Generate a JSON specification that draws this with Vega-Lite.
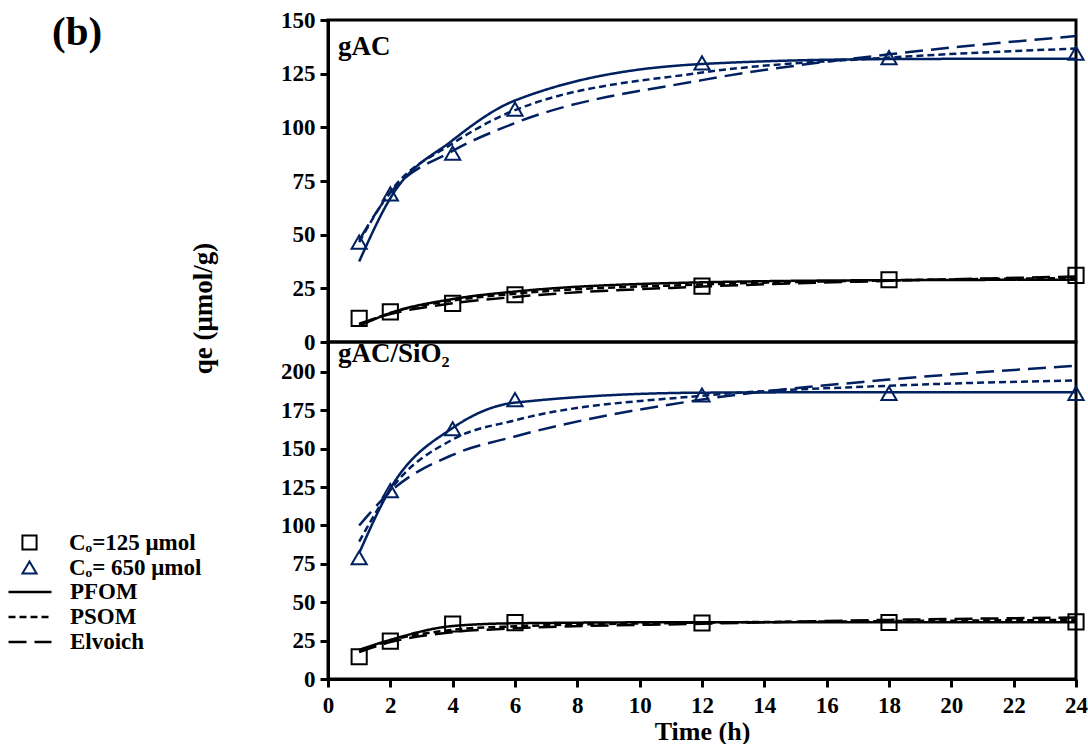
{
  "$schema": "https://vega.github.io/schema/vega-lite/v6.json",
  "autosize": {"type": "pad"},
  "padding": {"left": 16, "top": 7, "right": 0, "bottom": 0},
  "background": "white",
  "title": {"text": "(b)", "anchor": "start", "frame": "group", "dx": -276, "offset": -46, "fontSize": 41, "font": "Liberation Serif", "fontWeight": "bold", "color": "black"},
  "datasets": {
    "points": [
      {"p": "gAC", "co": "125", "t": 1, "q": 11}, {"p": "gAC", "co": "125", "t": 2, "q": 14}, {"p": "gAC", "co": "125", "t": 4, "q": 18}, {"p": "gAC", "co": "125", "t": 6, "q": 22}, {"p": "gAC", "co": "125", "t": 12, "q": 26}, {"p": "gAC", "co": "125", "t": 18, "q": 29}, {"p": "gAC", "co": "125", "t": 24, "q": 31},
      {"p": "gAC", "co": "650", "t": 1, "q": 46.5}, {"p": "gAC", "co": "650", "t": 2, "q": 69}, {"p": "gAC", "co": "650", "t": 4, "q": 88}, {"p": "gAC", "co": "650", "t": 6, "q": 108.5}, {"p": "gAC", "co": "650", "t": 12, "q": 130}, {"p": "gAC", "co": "650", "t": 18, "q": 132.5}, {"p": "gAC", "co": "650", "t": 24, "q": 134.5},
      {"p": "SiO2", "co": "125", "t": 1, "q": 14.5}, {"p": "SiO2", "co": "125", "t": 2, "q": 24.7}, {"p": "SiO2", "co": "125", "t": 4, "q": 35.8}, {"p": "SiO2", "co": "125", "t": 6, "q": 36.7}, {"p": "SiO2", "co": "125", "t": 12, "q": 36.5}, {"p": "SiO2", "co": "125", "t": 18, "q": 36.8}, {"p": "SiO2", "co": "125", "t": 24, "q": 37.2},
      {"p": "SiO2", "co": "650", "t": 1, "q": 79}, {"p": "SiO2", "co": "650", "t": 2, "q": 122.7}, {"p": "SiO2", "co": "650", "t": 4, "q": 163}, {"p": "SiO2", "co": "650", "t": 6, "q": 182}, {"p": "SiO2", "co": "650", "t": 12, "q": 185}, {"p": "SiO2", "co": "650", "t": 18, "q": 186}, {"p": "SiO2", "co": "650", "t": 24, "q": 186}
    ],
    "fits": [
      {"p": "gAC", "co": "650", "m": "PFOM", "t": 1, "q": 37.5}, {"p": "gAC", "co": "650", "m": "PFOM", "t": 2, "q": 67}, {"p": "gAC", "co": "650", "m": "PFOM", "t": 4, "q": 94}, {"p": "gAC", "co": "650", "m": "PFOM", "t": 6, "q": 112.5}, {"p": "gAC", "co": "650", "m": "PFOM", "t": 12, "q": 129.5}, {"p": "gAC", "co": "650", "m": "PFOM", "t": 18, "q": 131.8}, {"p": "gAC", "co": "650", "m": "PFOM", "t": 24, "q": 132},
      {"p": "gAC", "co": "650", "m": "PSOM", "t": 1, "q": 46.5}, {"p": "gAC", "co": "650", "m": "PSOM", "t": 2, "q": 70}, {"p": "gAC", "co": "650", "m": "PSOM", "t": 4, "q": 92.5}, {"p": "gAC", "co": "650", "m": "PSOM", "t": 6, "q": 108}, {"p": "gAC", "co": "650", "m": "PSOM", "t": 12, "q": 125.5}, {"p": "gAC", "co": "650", "m": "PSOM", "t": 18, "q": 132.5}, {"p": "gAC", "co": "650", "m": "PSOM", "t": 24, "q": 136.7},
      {"p": "gAC", "co": "650", "m": "Elvoich", "t": 1, "q": 47.5}, {"p": "gAC", "co": "650", "m": "Elvoich", "t": 2, "q": 69.5}, {"p": "gAC", "co": "650", "m": "Elvoich", "t": 4, "q": 89}, {"p": "gAC", "co": "650", "m": "Elvoich", "t": 6, "q": 102}, {"p": "gAC", "co": "650", "m": "Elvoich", "t": 12, "q": 122}, {"p": "gAC", "co": "650", "m": "Elvoich", "t": 18, "q": 134}, {"p": "gAC", "co": "650", "m": "Elvoich", "t": 24, "q": 142.5},
      {"p": "gAC", "co": "125", "m": "PFOM", "t": 1, "q": 7.5}, {"p": "gAC", "co": "125", "m": "PFOM", "t": 2, "q": 13.5}, {"p": "gAC", "co": "125", "m": "PFOM", "t": 4, "q": 20}, {"p": "gAC", "co": "125", "m": "PFOM", "t": 6, "q": 23.5}, {"p": "gAC", "co": "125", "m": "PFOM", "t": 12, "q": 27.8}, {"p": "gAC", "co": "125", "m": "PFOM", "t": 18, "q": 28.8}, {"p": "gAC", "co": "125", "m": "PFOM", "t": 24, "q": 29},
      {"p": "gAC", "co": "125", "m": "PSOM", "t": 1, "q": 8}, {"p": "gAC", "co": "125", "m": "PSOM", "t": 2, "q": 13.5}, {"p": "gAC", "co": "125", "m": "PSOM", "t": 4, "q": 19.3}, {"p": "gAC", "co": "125", "m": "PSOM", "t": 6, "q": 22.5}, {"p": "gAC", "co": "125", "m": "PSOM", "t": 12, "q": 26.8}, {"p": "gAC", "co": "125", "m": "PSOM", "t": 18, "q": 28.7}, {"p": "gAC", "co": "125", "m": "PSOM", "t": 24, "q": 29.8},
      {"p": "gAC", "co": "125", "m": "Elvoich", "t": 1, "q": 8.5}, {"p": "gAC", "co": "125", "m": "Elvoich", "t": 2, "q": 13}, {"p": "gAC", "co": "125", "m": "Elvoich", "t": 4, "q": 18}, {"p": "gAC", "co": "125", "m": "Elvoich", "t": 6, "q": 21}, {"p": "gAC", "co": "125", "m": "Elvoich", "t": 12, "q": 25.8}, {"p": "gAC", "co": "125", "m": "Elvoich", "t": 18, "q": 28.5}, {"p": "gAC", "co": "125", "m": "Elvoich", "t": 24, "q": 30.5},
      {"p": "SiO2", "co": "650", "m": "PFOM", "t": 1, "q": 82}, {"p": "SiO2", "co": "650", "m": "PFOM", "t": 2, "q": 124}, {"p": "SiO2", "co": "650", "m": "PFOM", "t": 4, "q": 163.5}, {"p": "SiO2", "co": "650", "m": "PFOM", "t": 6, "q": 180}, {"p": "SiO2", "co": "650", "m": "PFOM", "t": 12, "q": 186.5}, {"p": "SiO2", "co": "650", "m": "PFOM", "t": 18, "q": 186.8}, {"p": "SiO2", "co": "650", "m": "PFOM", "t": 24, "q": 186.8},
      {"p": "SiO2", "co": "650", "m": "PSOM", "t": 1, "q": 89.5}, {"p": "SiO2", "co": "650", "m": "PSOM", "t": 2, "q": 123}, {"p": "SiO2", "co": "650", "m": "PSOM", "t": 4, "q": 156}, {"p": "SiO2", "co": "650", "m": "PSOM", "t": 6, "q": 168.5}, {"p": "SiO2", "co": "650", "m": "PSOM", "t": 12, "q": 184.5}, {"p": "SiO2", "co": "650", "m": "PSOM", "t": 18, "q": 191}, {"p": "SiO2", "co": "650", "m": "PSOM", "t": 24, "q": 194.5},
      {"p": "SiO2", "co": "650", "m": "Elvoich", "t": 1, "q": 100}, {"p": "SiO2", "co": "650", "m": "Elvoich", "t": 2, "q": 122}, {"p": "SiO2", "co": "650", "m": "Elvoich", "t": 4, "q": 146}, {"p": "SiO2", "co": "650", "m": "Elvoich", "t": 6, "q": 158}, {"p": "SiO2", "co": "650", "m": "Elvoich", "t": 12, "q": 182}, {"p": "SiO2", "co": "650", "m": "Elvoich", "t": 18, "q": 195}, {"p": "SiO2", "co": "650", "m": "Elvoich", "t": 24, "q": 204},
      {"p": "SiO2", "co": "125", "m": "PFOM", "t": 1, "q": 19}, {"p": "SiO2", "co": "125", "m": "PFOM", "t": 2, "q": 25.5}, {"p": "SiO2", "co": "125", "m": "PFOM", "t": 4, "q": 34.5}, {"p": "SiO2", "co": "125", "m": "PFOM", "t": 6, "q": 36.3}, {"p": "SiO2", "co": "125", "m": "PFOM", "t": 12, "q": 37}, {"p": "SiO2", "co": "125", "m": "PFOM", "t": 18, "q": 37}, {"p": "SiO2", "co": "125", "m": "PFOM", "t": 24, "q": 37},
      {"p": "SiO2", "co": "125", "m": "PSOM", "t": 1, "q": 18}, {"p": "SiO2", "co": "125", "m": "PSOM", "t": 2, "q": 25}, {"p": "SiO2", "co": "125", "m": "PSOM", "t": 4, "q": 32}, {"p": "SiO2", "co": "125", "m": "PSOM", "t": 6, "q": 34.3}, {"p": "SiO2", "co": "125", "m": "PSOM", "t": 12, "q": 36.7}, {"p": "SiO2", "co": "125", "m": "PSOM", "t": 18, "q": 37.7}, {"p": "SiO2", "co": "125", "m": "PSOM", "t": 24, "q": 38.5},
      {"p": "SiO2", "co": "125", "m": "Elvoich", "t": 1, "q": 17.5}, {"p": "SiO2", "co": "125", "m": "Elvoich", "t": 2, "q": 24}, {"p": "SiO2", "co": "125", "m": "Elvoich", "t": 4, "q": 30.5}, {"p": "SiO2", "co": "125", "m": "Elvoich", "t": 6, "q": 33}, {"p": "SiO2", "co": "125", "m": "Elvoich", "t": 12, "q": 36}, {"p": "SiO2", "co": "125", "m": "Elvoich", "t": 18, "q": 38.5}, {"p": "SiO2", "co": "125", "m": "Elvoich", "t": 24, "q": 40}
    ]
  },
  "bounds": "flush",
  "spacing": 0,
  "resolve": {"legend": {"color": "independent", "shape": "independent", "strokeDash": "independent"}},
  "vconcat": [
    {
      "width": 748,
      "height": 322,
      "title": {"text": "gAC", "anchor": "start", "frame": "group", "dx": 10, "offset": -52, "fontSize": 27},
      "layer": [
        {
          "data": {"name": "fits"},
          "transform": [{"filter": "datum.p === 'gAC'"}],
          "mark": {"type": "line", "interpolate": "monotone", "strokeWidth": 2.5},
          "encoding": {
            "x": {"field": "t", "type": "quantitative", "scale": {"domain": [0, 24], "nice": false}, "axis": null},
            "y": {"field": "q", "type": "quantitative", "scale": {"domain": [0, 150], "nice": false},
              "axis": {"values": [0, 25, 50, 75, 100, 125, 150], "title": "qe (μmol/g)", "titleX": -125, "titleY": 288, "titleAngle": 270, "titleBaseline": "middle", "titleAlign": "center", "titleFontSize": 27}},
            "color": {"field": "co", "type": "nominal", "scale": {"domain": ["125", "650"], "range": ["#000000", "#002060"]}, "legend": null},
            "strokeDash": {"field": "m", "type": "nominal", "scale": {"domain": ["PFOM", "PSOM", "Elvoich"], "range": [[1, 0], [7, 4], [18, 8]]}, "legend": null},
            "detail": {"field": "co"}
          }
        },
        {
          "data": {"name": "points"},
          "transform": [{"filter": "datum.p === 'gAC'"}],
          "mark": {"type": "point", "filled": false, "strokeWidth": 2, "size": 230, "opacity": 1},
          "encoding": {
            "x": {"field": "t", "type": "quantitative"},
            "y": {"field": "q", "type": "quantitative"},
            "color": {"field": "co", "type": "nominal", "legend": null},
            "shape": {"field": "co", "type": "nominal", "scale": {"domain": ["125", "650"], "range": ["square", "triangle-up"]}, "legend": null}
          }
        }
      ]
    },
    {
      "width": 748,
      "height": 337,
      "title": {"text": "gAC/SiO₂", "anchor": "start", "frame": "group", "dx": 10, "offset": -26, "fontSize": 27},
      "layer": [
        {
          "data": {"name": "fits"},
          "transform": [{"filter": "datum.p === 'SiO2'"}],
          "mark": {"type": "line", "interpolate": "monotone", "strokeWidth": 2.5},
          "encoding": {
            "x": {"field": "t", "type": "quantitative", "scale": {"domain": [0, 24], "nice": false},
              "axis": {"values": [0, 2, 4, 6, 8, 10, 12, 14, 16, 18, 20, 22, 24], "title": "Time (h)", "titleFontSize": 26, "labelFlush": false, "labelPadding": 7, "titlePadding": 1}},
            "y": {"field": "q", "type": "quantitative", "scale": {"domain": [0, 219.5], "nice": false},
              "axis": {"values": [0, 25, 50, 75, 100, 125, 150, 175, 200], "title": null}},
            "color": {"field": "co", "type": "nominal", "scale": {"domain": ["125", "650"], "range": ["#000000", "#002060"]},
              "legend": {"orient": "none", "legendX": -310, "legendY": 189, "title": null, "symbolSize": 200, "symbolStrokeWidth": 2, "labelOffset": 28, "rowPadding": 1, "labelExpr": "datum.label == '125' ? 'Cₒ=125 μmol' : 'Cₒ= 650 μmol'"}},
            "strokeDash": {"field": "m", "type": "nominal", "scale": {"domain": ["PFOM", "PSOM", "Elvoich"], "range": [[1, 0], [7, 4], [18, 8]]},
              "legend": {"orient": "none", "legendX": -310, "legendY": 238, "title": null, "symbolType": "M-2,0H2", "symbolStrokeColor": "black", "symbolSize": 462, "symbolStrokeWidth": 2.5, "labelOffset": 28, "rowPadding": 1}},
            "detail": {"field": "co"}
          }
        },
        {
          "data": {"name": "points"},
          "transform": [{"filter": "datum.p === 'SiO2'"}],
          "mark": {"type": "point", "filled": false, "strokeWidth": 2, "size": 230, "opacity": 1},
          "encoding": {
            "x": {"field": "t", "type": "quantitative"},
            "y": {"field": "q", "type": "quantitative"},
            "color": {"field": "co", "type": "nominal",
              "legend": {"orient": "none", "legendX": -310, "legendY": 189, "title": null, "symbolSize": 200, "symbolStrokeWidth": 2, "labelOffset": 28, "rowPadding": 1, "labelExpr": "datum.label == '125' ? 'Cₒ=125 μmol' : 'Cₒ= 650 μmol'"}},
            "shape": {"field": "co", "type": "nominal", "scale": {"domain": ["125", "650"], "range": ["square", "triangle-up"]},
              "legend": {"orient": "none", "legendX": -310, "legendY": 189, "title": null, "symbolSize": 200, "symbolStrokeWidth": 2, "labelOffset": 28, "rowPadding": 1, "labelExpr": "datum.label == '125' ? 'Cₒ=125 μmol' : 'Cₒ= 650 μmol'"}}
          }
        }
      ]
    }
  ],
  "config": {
    "font": "Liberation Serif",
    "view": {"stroke": "black", "strokeWidth": 3},
    "axis": {"labelFont": "Liberation Serif", "labelFontWeight": "bold", "labelFontSize": 23, "labelColor": "black", "titleFont": "Liberation Serif", "titleFontWeight": "bold", "titleColor": "black", "domainColor": "black", "domainWidth": 3, "tickColor": "black", "tickWidth": 3, "tickSize": 8, "grid": false, "labelPadding": 5},
    "legend": {"labelFont": "Liberation Serif", "labelFontWeight": "bold", "labelFontSize": 23, "labelColor": "black", "padding": 0},
    "title": {"font": "Liberation Serif", "fontWeight": "bold", "color": "black"}
  }
}
